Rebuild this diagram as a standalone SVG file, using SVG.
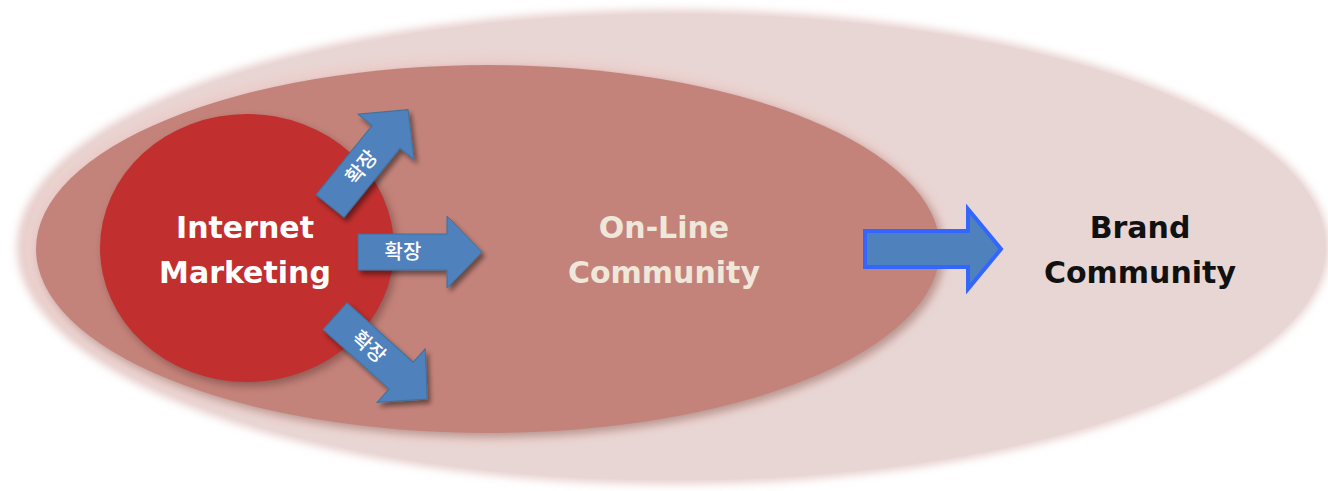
<svg xmlns="http://www.w3.org/2000/svg" width="1328" height="491" viewBox="0 0 1328 491">
<defs>
<filter id="soft" x="-5%" y="-10%" width="110%" height="120%"><feGaussianBlur stdDeviation="4"/></filter>
<filter id="shadow" x="-10%" y="-10%" width="130%" height="130%"><feGaussianBlur in="SourceAlpha" stdDeviation="2.5"/><feOffset dx="3" dy="4"/><feComponentTransfer><feFuncA type="linear" slope="0.45"/></feComponentTransfer><feMerge><feMergeNode/><feMergeNode in="SourceGraphic"/></feMerge></filter>
<path id="arr" d="M0,-18 L89,-18 L89,-36 L124,0 L89,36 L89,18 L0,18 Z"/>
</defs>
<style>
.lbl{font-family:"DejaVu Sans","Noto Sans",sans-serif;font-weight:bold;font-size:30px;text-anchor:middle}
.kr{font-family:"Noto Sans CJK KR",sans-serif;font-size:20px;fill:#ffffff;text-anchor:middle;font-weight:500}
.sarr{fill:#4f81bd;stroke:#41719c;stroke-width:1}
</style>
<rect width="1328" height="491" fill="#ffffff"/>
<g id="brand-community">
<ellipse cx="673" cy="247" rx="656" ry="237" fill="#e6cfcc" filter="url(#soft)"/>
<ellipse cx="676" cy="247" rx="650" ry="233" fill="#e8d6d4"/>
<text class="lbl" x="1140" y="238" fill="#111111">Brand</text>
<text class="lbl" x="1140" y="283" fill="#111111">Community</text>
</g>
<g id="online-community">
<ellipse cx="486" cy="249" rx="462" ry="193" fill="#ebcfcc" filter="url(#soft)"/>
<ellipse cx="492" cy="253" rx="452" ry="184" fill="#b8968f" filter="url(#soft)"/>
<ellipse cx="488" cy="249" rx="452" ry="184" fill="#c4837a"/>
<text class="lbl" x="664" y="238" fill="#efe8da">On-Line</text>
<text class="lbl" x="664" y="283" fill="#efe8da">Community</text>
</g>
<g id="internet-marketing">
<ellipse cx="250" cy="252" rx="147" ry="134" fill="#8f5a54" filter="url(#soft)"/>
<ellipse cx="247" cy="248" rx="147" ry="134" fill="#c12f2e"/>
<text class="lbl" x="245" y="238" fill="#ffffff">Internet</text>
<text class="lbl" x="245" y="283" fill="#ffffff">Marketing</text>
</g>
<g id="connectors">
<g filter="url(#shadow)">
<use href="#arr" class="sarr" transform="translate(330,206) rotate(-51)"/>
<use href="#arr" class="sarr" transform="translate(358,252)"/>
<use href="#arr" class="sarr" transform="translate(335,316) rotate(42)"/>
</g>
<text class="kr" transform="translate(330,206) rotate(-51) translate(50,7)">확장</text>
<text class="kr" x="403" y="259">확장</text>
<text class="kr" transform="translate(335,316) rotate(42) translate(46,7)">확장</text>
<path d="M865,231 L968,231 L968,209 L1001,249 L968,289 L968,267 L865,267 Z" fill="#4f81bd" stroke="#3366ff" stroke-width="4"/>
</g>
</svg>
